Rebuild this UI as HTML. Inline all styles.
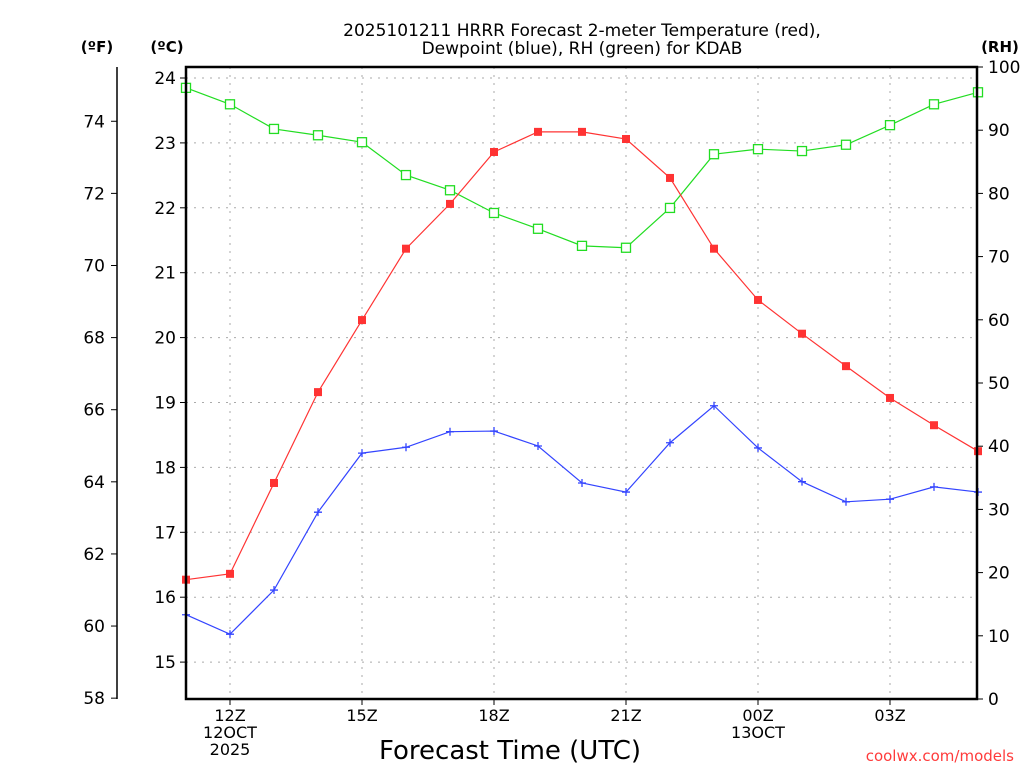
<!DOCTYPE html>
<html><head><meta charset="utf-8"><style>
body{margin:0;background:#fff;}
svg{display:block;font-family:"DejaVu Sans","Liberation Sans",sans-serif;}
</style></head><body>
<svg id="c" width="1024" height="768">
<text x="582" y="36" font-size="17" text-anchor="middle">2025101211 HRRR Forecast 2-meter Temperature (red),</text>
<text x="582" y="54" font-size="17" text-anchor="middle">Dewpoint (blue), RH (green) for KDAB</text>
<text x="97" y="52" font-size="15" font-weight="bold" text-anchor="middle">(ºF)</text>
<text x="167" y="52" font-size="15" font-weight="bold" text-anchor="middle">(ºC)</text>
<text x="1000" y="52" font-size="15" font-weight="bold" text-anchor="middle">(RH)</text>
<text x="510" y="759" font-size="26" text-anchor="middle">Forecast Time (UTC)</text>
<text x="1014" y="761" font-size="15" fill="#ff3b3b" text-anchor="end">coolwx.com/models</text>
<g id="grid"></g><g id="axes"></g><g id="series"></g>
<rect x="186" y="67" width="791" height="632" fill="none" stroke="#000" stroke-width="2.5"/>
</svg>
<script>
const hours=["11Z","12Z","13Z","14Z","15Z","16Z","17Z","18Z","19Z","20Z","21Z","22Z","23Z","00Z","01Z","02Z","03Z","04Z","05Z"];
const tempC=[16.27,16.36,17.76,19.16,20.27,21.37,22.06,22.86,23.17,23.17,23.06,22.46,21.37,20.58,20.06,19.56,19.07,18.65,18.25];
const dewC=[15.73,15.43,16.11,17.31,18.22,18.31,18.55,18.56,18.33,17.76,17.62,18.38,18.95,18.30,17.78,17.47,17.51,17.70,17.62];
const rh=[96.7,94.1,90.2,89.2,88.1,82.9,80.5,76.9,74.4,71.7,71.4,77.7,86.2,87.0,86.7,87.7,90.8,94.1,96.0];
const cTicks=[15,16,17,18,19,20,21,22,23,24];
const fTicks=[58,60,62,64,66,68,70,72,74];
const rhTicks=[0,10,20,30,40,50,60,70,80,90,100];
const xLabels=[["12Z","12OCT","2025"],["15Z"],["18Z"],["21Z","",""],["00Z","13OCT"],["03Z"]];
const xLabelIdx=[1,4,7,10,13,16];
const NS="http://www.w3.org/2000/svg";
const X=i=>186+i*44;
const YC=c=>78+(24-c)*64.9;
const YF=f=>YC((f-32)*5/9);
const YR=r=>699-r*6.32;
function mk(p,t,a){const e=document.createElementNS(NS,t);for(const k in a)e.setAttribute(k,a[k]);document.getElementById(p).appendChild(e);return e;}
cTicks.forEach(c=>{
 const g=mk('grid','line',{x1:186,x2:977,y1:YC(c),y2:YC(c),stroke:'#aaa','stroke-dasharray':'2,6'});
 
 
 mk('axes','line',{x1:180,x2:186,y1:YC(c),y2:YC(c),stroke:'#000'});
 const t=mk('axes','text',{x:176,y:YC(c)+6,'font-size':17,'text-anchor':'end'});t.textContent=c;
 
 
});
mk('axes','line',{x1:117,x2:117,y1:67,y2:699,stroke:'#000','stroke-width':1.5});
fTicks.forEach(f=>{
 mk('axes','line',{x1:111,x2:117,y1:YF(f),y2:YF(f),stroke:'#000'});
 const t=mk('axes','text',{x:105,y:YF(f)+6,'font-size':17,'text-anchor':'end'});t.textContent=f;
 
 
});
rhTicks.forEach(r=>{
 mk('axes','line',{x1:977,x2:983,y1:YR(r),y2:YR(r),stroke:'#000'});
 const t=mk('axes','text',{x:988,y:YR(r)+6,'font-size':17});t.textContent=r;
 
 
});
xLabelIdx.forEach((i,k)=>{
 const g=mk('grid','line',{x1:X(i),x2:X(i),y1:67,y2:699,stroke:'#aaa','stroke-dasharray':'2,6'});
 
 
 mk('axes','line',{x1:X(i),x2:X(i),y1:699,y2:705,stroke:'#000'});
 xLabels[k].forEach((s,j)=>{if(!s)return;const t=mk('axes','text',{x:X(i),y:721+j*17,'font-size':16,'text-anchor':'middle'});t.textContent=s;
 
 });
});
function series(vals,Y,color,marker,name){
 const pts=vals.map((v,i)=>X(i)+','+Y(v)).join(' ');
 const l=mk('series','polyline',{points:pts,fill:'none',stroke:color,'stroke-width':1.2});
 
 
 vals.forEach((v,i)=>{
  const x=X(i),y=Y(v);let m;
  if(marker==='fill')m=mk('series','rect',{x:x-4,y:y-4,width:8,height:8,fill:color});
  else if(marker==='open')m=mk('series','rect',{x:x-4.5,y:y-4.5,width:9,height:9,fill:'#fff',stroke:color,'stroke-width':1.3});
  else m=mk('series','path',{d:`M${x-4} ${y}H${x+4}M${x} ${y-4}V${y+4}`,stroke:color,'stroke-width':1.3});
  
  
 });
}
series(rh,YR,'#22dd22','open','rh');
series(dewC,YC,'#3344ff','plus','dewpoint');
series(tempC,YC,'#ff3333','fill','temperature');
</script>
</body></html>
